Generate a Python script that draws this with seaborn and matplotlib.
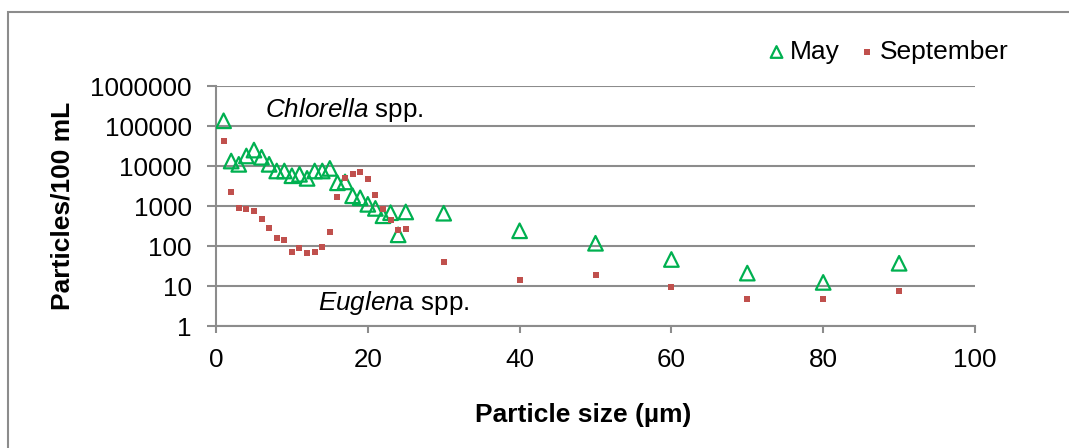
import matplotlib
matplotlib.use("Agg")
import matplotlib.pyplot as plt
import seaborn as sns
import pandas as pd
from matplotlib.patches import Rectangle
from matplotlib.ticker import FixedLocator, NullLocator, FixedFormatter

# ---- data ----
may_size = [1, 2, 3, 4, 5, 6, 7, 8, 9, 10, 11, 12, 13, 14, 15, 16, 17, 18, 19, 20,
            21, 22, 23, 24, 25, 30, 40, 50, 60, 70, 80, 90]
may_count = [135000, 13300, 11000, 17800, 25000, 16500, 11000, 7500, 7500, 5700,
             6200, 4900, 7500, 7500, 8700, 3800, 4000, 1800, 1600, 1100,
             870, 570, 680, 190, 710, 660, 240, 117, 46, 21, 12.3, 37]
sep_size = [1, 2, 3, 4, 5, 6, 7, 8, 9, 10, 11, 12, 13, 14, 15, 16, 17, 18, 19, 20,
            21, 22, 23, 24, 25, 30, 40, 50, 60, 70, 80, 90]
sep_count = [43000, 2200, 910, 850, 760, 480, 280, 160, 140, 71,
             91, 68, 72, 94, 230, 1700, 5100, 6300, 7200, 4600,
             1900, 850, 450, 250, 270, 40, 14.4, 19, 9.6, 4.8, 4.8, 7.6]
series_names = ["May", "September"]
y_ticks = [1, 10, 100, 1000, 10000, 100000, 1000000]
y_tick_labels = ["1", "10", "100", "1000", "10000", "100000", "1000000"]
x_ticks = [0, 20, 40, 60, 80, 100]
x_label = "Particle size (µm)"
y_label = "Particles/100 mL"

GREEN = "#00B050"
RED = "#C0504D"
GRAY = "#8c8c8c"

sns.set_theme(style="white")
plt.rcParams["font.family"] = ["Liberation Sans", "DejaVu Sans"]
plt.rcParams["mathtext.fontset"] = "custom"
plt.rcParams["mathtext.rm"] = "Liberation Sans"
plt.rcParams["mathtext.it"] = "Liberation Sans:italic"
plt.rcParams["text.color"] = "black"
plt.rcParams["axes.labelcolor"] = "black"

fig = plt.figure(figsize=(10.69, 4.48), dpi=100)
ax = fig.add_axes([216 / 1069, 1 - 326 / 448, (975 - 216) / 1069, (326 - 86) / 448])

df_may = pd.DataFrame({"size": may_size, "count": may_count})
df_sep = pd.DataFrame({"size": sep_size, "count": sep_count})

sns.scatterplot(data=df_may, x="size", y="count", ax=ax, marker="^", s=110,
                facecolors="none", edgecolor=GREEN, linewidth=1.6,
                label=series_names[0], zorder=3)
sns.scatterplot(data=df_sep, x="size", y="count", ax=ax, marker="s", s=24,
                color=RED, edgecolor=RED, linewidth=0, label=series_names[1], zorder=3)

ax.set_yscale("log")
ax.set_ylim(1, 1000000)
ax.set_xlim(0, 100)
ax.yaxis.set_major_locator(FixedLocator(y_ticks))
ax.yaxis.set_major_formatter(FixedFormatter(y_tick_labels))
ax.yaxis.set_minor_locator(NullLocator())
ax.set_xticks(x_ticks)

ax.grid(axis="y", color=GRAY, linewidth=1.5)
ax.grid(axis="x", visible=False)
ax.set_axisbelow(True)
for side in ["top", "right"]:
    ax.spines[side].set_visible(False)
for side in ["left", "bottom"]:
    ax.spines[side].set_color(GRAY)
    ax.spines[side].set_linewidth(1.5)

ax.tick_params(axis="y", which="major", direction="out", length=6.5, width=1.5,
               color=GRAY, labelsize=18.7, pad=11, left=True, labelcolor="black")
ax.tick_params(axis="x", which="major", direction="out", length=5, width=1.5,
               color=GRAY, labelsize=18.7, pad=11, bottom=True, labelcolor="black")

ax.set_xlabel(x_label, fontsize=19, fontweight="bold", labelpad=22)
ax.xaxis.label.set_x((583 - 216) / 759)
ax.set_ylabel(y_label, fontsize=19, fontweight="bold", labelpad=11)

ax.text(6.5, 2.5e5, r"$\mathit{Chlorella}$ spp.", fontsize=18.7, va="center", ha="left",
        color="black")
ax.text(13.4, 3.76, r"$\mathit{Euglen}$a spp.", fontsize=18.7, va="center", ha="left",
        color="black")

leg = ax.legend(loc="center right", bbox_to_anchor=(1.058, 1.142), ncol=2, frameon=False,
                fontsize=19, handletextpad=0.2, columnspacing=0.72, markerscale=0.8,
                borderaxespad=0, handlelength=0.6)
for t in leg.get_texts():
    t.set_color("black")

# outer chart border (left and top visible)
fig.add_artist(Rectangle((8 / 1069, -0.2), 1.3, 0.2 + (1 - 12 / 448),
                         transform=fig.transFigure, fill=False,
                         edgecolor=GRAY, linewidth=1.5))

fig.savefig("out.png", dpi=100)
